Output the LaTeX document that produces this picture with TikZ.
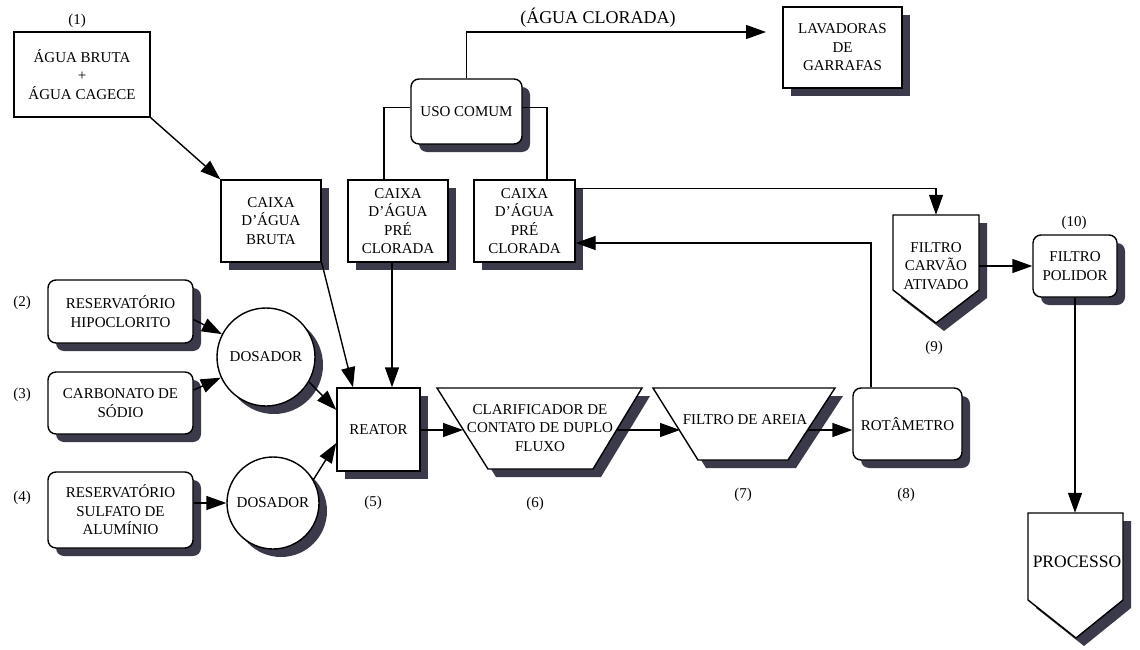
\documentclass[tikz,border=0pt]{standalone}
\usepackage{fontspec}
\setmainfont{Liberation Serif}
\usetikzlibrary{arrows.meta,shadows,calc}
\definecolor{shadowc}{RGB}{58,58,74}
\begin{document}
\begin{tikzpicture}[x=1pt,y=-1pt,
  lw/.style={line width=1.4pt},
  flow/.style={lw,-{Triangle[length=20pt,width=14pt]}},
  shade/.style={drop shadow={shadow xshift=8pt,shadow yshift=-8pt,fill=shadowc,opacity=1}},
  txt/.style={align=center,font=\fontsize{15}{18.5}\selectfont,inner sep=0pt},
  box/.style={txt,draw,lw,fill=white},
  sbox/.style={box,shade},
  rbox/.style={sbox,rounded corners=8pt},
  dosebox/.style={txt,draw,lw,fill=white,shade,circle},
  tag/.style={font=\fontsize{15}{18}\selectfont,inner sep=0pt},
  outline/.style={lw,fill=white,shade,line join=miter}
]
\useasboundingbox (0,0) rectangle (1140,650);

% ---- outlines of the funnel and pentagon vessels ----
\draw[outline] (437,388) -- (642,388) -- (593,469) -- (488,469) -- cycle;
\draw[outline] (653,388) -- (835,388) -- (788,460) -- (698,460) -- cycle;
\draw[outline] (893,215) -- (979,215) -- (979,290) -- (936,323) -- (893,290) -- cycle;
\draw[outline] (1028,513) -- (1123,513) -- (1123,600) -- (1076,638) -- (1028,600) -- cycle;

% ---- process units ----
\node[box,minimum width=136pt,minimum height=85pt] (src) at (82,74.5) {ÁGUA BRUTA\\+\\ÁGUA CAGECE};
\node[sbox,minimum width=119pt,minimum height=81pt] (lav) at (842.5,47.5) {LAVADORAS\\DE\\GARRAFAS};
\node[rbox,minimum width=111pt,minimum height=65pt] (uso) at (466.5,111.5) {USO COMUM};
\node[sbox,minimum width=100pt,minimum height=82pt] (cxb) at (271,221) {CAIXA\\D'ÁGUA\\BRUTA};
\node[sbox,minimum width=100pt,minimum height=82pt] (cxp1) at (398,221) {CAIXA\\D'ÁGUA\\PRÉ\\CLORADA};
\node[sbox,minimum width=101pt,minimum height=82pt] (cxp2) at (524.5,221) {CAIXA\\D'ÁGUA\\PRÉ\\CLORADA};
\node[txt,minimum width=86pt,minimum height=102pt] (carv) at (936,266) {FILTRO\\CARVÃO\\ATIVADO};
\node[rbox,minimum width=84pt,minimum height=62pt] (pol) at (1075,266) {FILTRO\\POLIDOR};
\node[txt,font=\fontsize{17.5}{20}\selectfont,minimum width=95pt,minimum height=98pt] (proc) at (1077,562) {PROCESSO};

\node[rbox,minimum width=145pt,minimum height=63pt] (hipo) at (120.5,311.5) {RESERVATÓRIO\\HIPOCLORITO};
\node[rbox,minimum width=145pt,minimum height=62pt] (carb) at (120.5,403) {CARBONATO DE\\SÓDIO};
\node[rbox,minimum width=145pt,minimum height=76pt] (sulf) at (120.5,510) {RESERVATÓRIO\\SULFATO DE\\ALUMÍNIO};
\node[dosebox,minimum size=98pt] (dos1) at (266,357) {DOSADOR};
\node[dosebox,minimum size=92pt] (dos2) at (273,503) {DOSADOR};
\node[sbox,minimum width=83pt,minimum height=83pt] (reat) at (378.5,429.5) {REATOR};
\node[txt] (clar) at (540,428) {CLARIFICADOR DE\\CONTATO DE DUPLO\\FLUXO};
\node[txt] (areia) at (745,420) {FILTRO DE AREIA};
\node[rbox,minimum width=109pt,minimum height=72pt] (rot) at (907.5,424) {ROTÂMETRO};

% ---- numbering and labels ----
\node[tag] (t1) at (77,21) {(1)};
\node[tag] (t2) at (22,303) {(2)};
\node[tag] (t3) at (22,395) {(3)};
\node[tag] (t4) at (22,498) {(4)};
\node[tag] (t5) at (373,503) {(5)};
\node[tag] (t6) at (535,504) {(6)};
\node[tag] (t7) at (743,495) {(7)};
\node[tag] (t8) at (906,495) {(8)};
\node[tag] (t9) at (934,348) {(9)};
\node[tag] (t10) at (1074,223) {(10)};
\node[font=\fontsize{18}{20}\selectfont,inner sep=0pt] (clorada) at (598,18) {(ÁGUA CLORADA)};

% ---- free ends and entry points ----
\coordinate (lavin) at (766,32);
\coordinate (clarin) at (463,430);
\coordinate (clarout) at (617,430);
\coordinate (areiain) at (680,430);
\coordinate (areiaout) at (808,430);
\coordinate (pc1) at ([xshift=-6pt]cxp1.south);

% ---- connectors ----
\draw[flow] (src.south east) -- (cxb.north west);
\draw[flow] (uso.north) |- (lavin);
\draw[lw] ([yshift=4pt]uso.west) -| ([xshift=-14pt]cxp1.north);
\draw[lw] ([yshift=4pt]uso.east) -| ([xshift=22.5pt]cxp2.north);
\draw[flow] ([yshift=-9pt]cxp2.north east) -| (carv.north);
\draw[flow] ([xshift=-36.5pt]rot.north) |- ([yshift=-22pt]cxp2.east);
\draw[flow] (carv.east |- pol.west) -- (pol.west);
\draw[flow] (pol.south) -- (pol.south |- proc.north);

\draw[flow] ([yshift=-8pt]hipo.east) -- (dos1);
\draw[flow] ([yshift=13pt]carb.east) -- (dos1);
\draw[flow] (dos1.-30) -- ([yshift=19.5pt]reat.west);
\draw[flow] (sulf.east |- dos2.west) -- (dos2.west);
\draw[flow] (dos2.30) -- ([yshift=-13.5pt]reat.west);
\draw[flow] (cxb.south east) -- ([xshift=-25.5pt]reat.north);
\draw[flow] (pc1) -- (pc1 |- reat.north);

\draw[flow] (reat.east |- clarin) -- (clarin);
\draw[flow] (clarout) -- (areiain);
\draw[flow] (areiaout) -- (areiaout -| rot.west);
\end{tikzpicture}
\end{document}
